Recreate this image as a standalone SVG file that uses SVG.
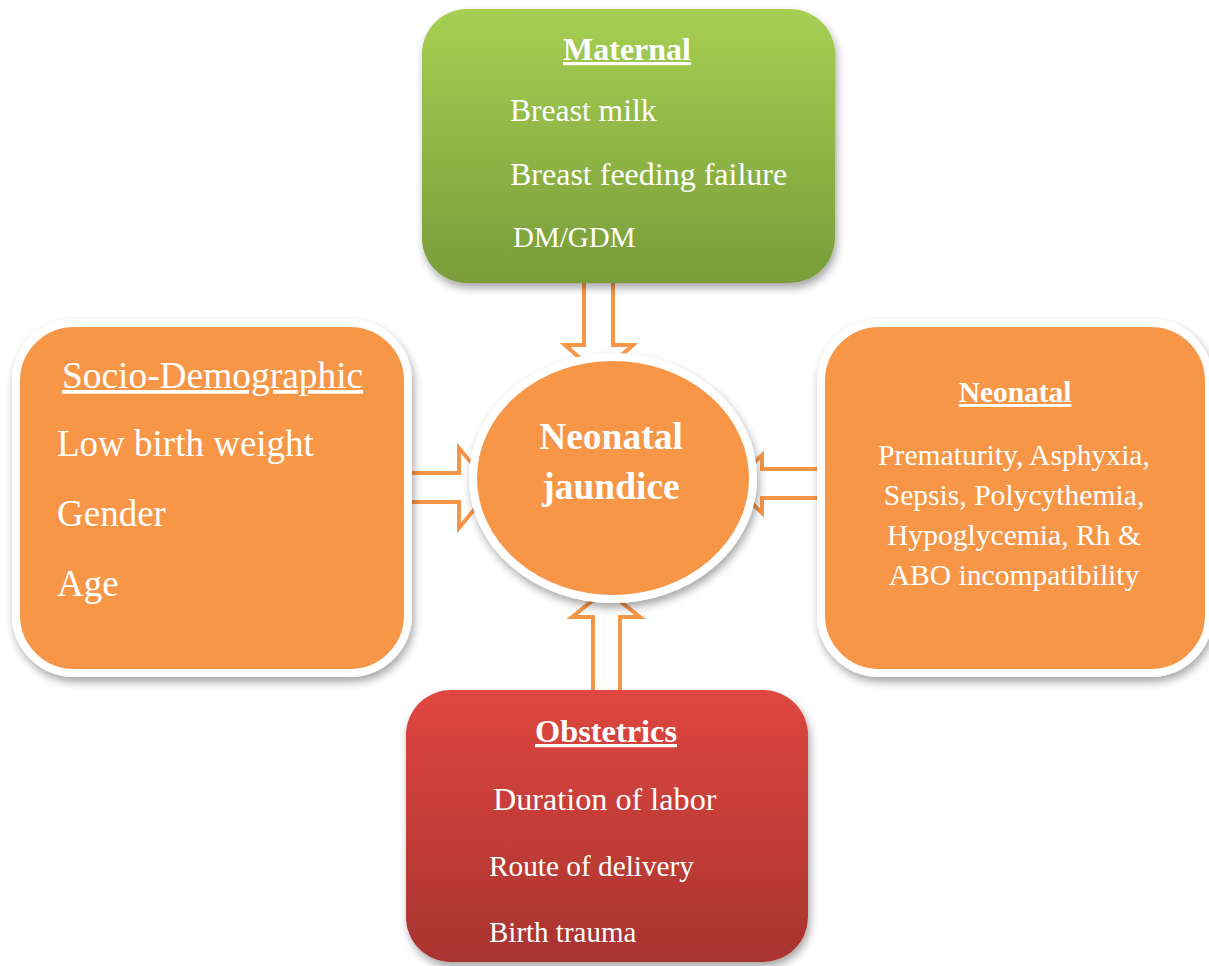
<svg xmlns="http://www.w3.org/2000/svg" width="1209" height="966" viewBox="0 0 1209 966">
<defs>
<linearGradient id="gGreen" x1="0" y1="0" x2="0" y2="1"><stop offset="0" stop-color="#a6cf53"/><stop offset="1" stop-color="#799d3a"/></linearGradient>
<linearGradient id="gRed" x1="0" y1="0" x2="0" y2="1"><stop offset="0" stop-color="#df4640"/><stop offset="1" stop-color="#a83430"/></linearGradient>
<filter id="sh" x="-10%" y="-10%" width="125%" height="125%"><feDropShadow dx="2" dy="5" stdDeviation="4" flood-color="#000" flood-opacity="0.35"/></filter>
</defs>
<style>
.t{font-family:"Liberation Serif","Times New Roman",serif;fill:#fff}
.b{font-weight:bold;text-decoration:underline}
.arr{fill:#fff;stroke:#f79646;stroke-width:4;stroke-linejoin:miter}
.or{fill:#f79646;stroke:#fff;stroke-width:8}
</style>
<g id="connectors">
<polygon class="arr" points="584,270 613,270 613,345 633,345 599,375 565,345 584,345"/>
<polygon class="arr" points="593,700 620,700 620,617 640,617 606,590 572,617 593,617"/>
<polygon class="arr" points="400,473 459,473 459,448 492,488 459,528 459,502 400,502"/>
<polygon class="arr" points="830,469 762,469 762,455 732,484 762,513 762,498 830,498"/>
</g>
<g id="maternal">
<rect x="422" y="9" width="413" height="274" rx="45" fill="url(#gGreen)" filter="url(#sh)"/>
<text class="t b" x="627" y="60" font-size="32" text-anchor="middle">Maternal</text>
<text class="t" x="510" y="121" font-size="31.6">Breast milk</text>
<text class="t" x="510" y="185" font-size="32">Breast feeding failure</text>
<text class="t" x="513" y="247" font-size="29">DM/GDM</text>
</g>
<g id="socio">
<rect class="or" x="16" y="323" width="392" height="350" rx="58" filter="url(#sh)"/>
<text class="t" x="62" y="388" font-size="37.4" text-decoration="underline">Socio-Demographic</text>
<text class="t" x="57" y="456" font-size="37">Low birth weight</text>
<text class="t" x="57" y="526" font-size="37">Gender</text>
<text class="t" x="57" y="596" font-size="37">Age</text>
</g>
<g id="neonatal">
<rect class="or" x="821" y="323" width="388" height="350" rx="58" filter="url(#sh)"/>
<text class="t b" x="1015" y="402" font-size="29.4" text-anchor="middle">Neonatal</text>
<text class="t" x="1014" y="465" font-size="29.6" text-anchor="middle">Prematurity, Asphyxia,</text>
<text class="t" x="1014" y="505" font-size="29.6" text-anchor="middle">Sepsis, Polycythemia,</text>
<text class="t" x="1014" y="545" font-size="29.6" text-anchor="middle">Hypoglycemia, Rh &amp;</text>
<text class="t" x="1014" y="585" font-size="29.6" text-anchor="middle">ABO incompatibility</text>
</g>
<g id="center">
<ellipse class="or" cx="613" cy="478" rx="140" ry="121" filter="url(#sh)"/>
<text class="t" x="611" y="449" font-size="37.5" font-weight="bold" text-anchor="middle">Neonatal</text>
<text class="t" x="611" y="499" font-size="37.5" font-weight="bold" text-anchor="middle">jaundice</text>
</g>
<g id="obstetrics">
<rect x="406" y="690" width="402" height="272" rx="45" fill="url(#gRed)" filter="url(#sh)"/>
<text class="t b" x="606" y="742" font-size="32.4" text-anchor="middle">Obstetrics</text>
<text class="t" x="493" y="810" font-size="32.2">Duration of labor</text>
<text class="t" x="489" y="876" font-size="29.3">Route of delivery</text>
<text class="t" x="489" y="942" font-size="29">Birth trauma</text>
</g>
</svg>
